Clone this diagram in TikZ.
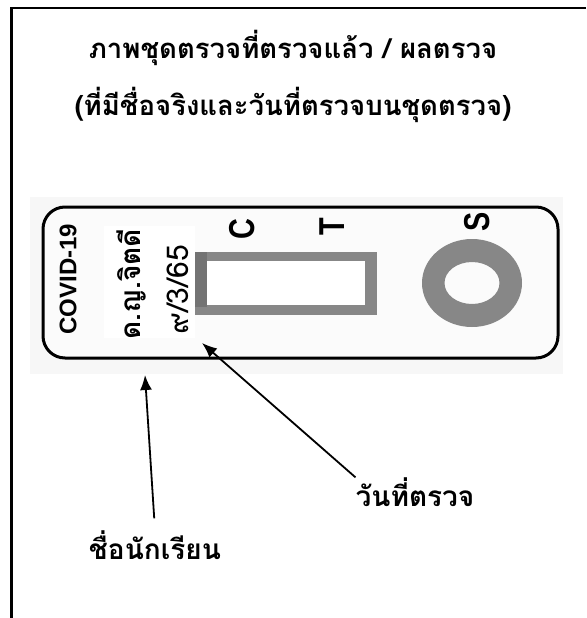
\documentclass[tikz,border=0pt]{standalone}
\usepackage{fontspec}
\setmainfont{Liberation Sans}
\newfontfamily\thaifont[Script=Thai]{Loma}
\usetikzlibrary{arrows.meta}

\tikzset{
    heading/.style = {font=\thaifont\bfseries\fontsize{27.5}{30}\selectfont, inner sep=0pt},
    callout/.style = {font=\thaifont\bfseries\fontsize{28}{30}\selectfont, inner sep=0pt},
    handwrite/.style = {font=\thaifont\fontsize{28}{30}\selectfont, inner sep=0pt, rotate=90},
    stripletter/.style = {font=\bfseries\fontsize{36}{36}\selectfont, inner sep=0pt, rotate=90, xscale=0.8},
    pointer/.style = {line width=1.8pt, -{Latex[length=15pt,width=12pt]}},
    wellgray/.style = {fill=black!47}
}

\begin{document}
\begin{tikzpicture}[x = 1pt, y = -1pt]
    \useasboundingbox (0,0) rectangle (586,618);
    % frame (top and left only)
    \draw[line width=2.7pt] (11.3,618) -- (11.3,8) -- (586,8);
    % headings
    \node[heading] (title1) at (293,48) {ภาพชุดตรวจที่ตรวจแล้ว / ผลตรวจ};
    \node[heading] (title2) at (293,105) {(ที่มีชื่อจริงและวันที่ตรวจบนชุดตรวจ)};
    % test strip photo
    \fill[black!3] (30,197) rectangle (563,374);
    \draw[line width=3pt, rounded corners=22pt, fill=black!1.5] (43,207) rectangle (558,358);
    \node[font=\bfseries\fontsize{24}{24}\selectfont, inner sep=0pt, rotate=90] (covid) at (68,279) {COVID-19};
    \fill[white] (104,226) rectangle (195,338);
    \node[handwrite, font=\thaifont\bfseries\fontsize{28}{30}\selectfont] (kidname) at (131,284) {ด.ญ.จิตดี};
    \node[handwrite, font=\thaifont\fontsize{30}{30}\selectfont] (testdate) at (178,290) {๙/3/65};
    % result window
    \fill[wellgray] (195,252) rectangle (377,315);
    \fill[white] (207,261) rectangle (365,305);
    \fill[black!55] (195,252) rectangle (207,307);
    \node[stripletter] (markC) at (242,229) {C};
    \node[stripletter] (markT) at (332,227) {T};
    % sample well
    \fill[wellgray, even odd rule] (472,283) ellipse [x radius=50pt, y radius=44pt]
        (472,283) ellipse [x radius=27.5pt, y radius=21pt];
    \node[stripletter] (markS) at (477,222) {S};
    % callouts
    \node[callout] (datelbl) at (415,492) {วันที่ตรวจ};
    \node[callout] (stdname) at (155,545) {ชื่อนักเรียน};
    \coordinate (datetip) at (202,343);
    \coordinate (nametip) at (145,375);
    \draw[pointer] (datelbl.north west) -- (datetip);
    \draw[pointer, shorten <=12pt] (stdname.north) -- (nametip);
\end{tikzpicture}
\end{document}
